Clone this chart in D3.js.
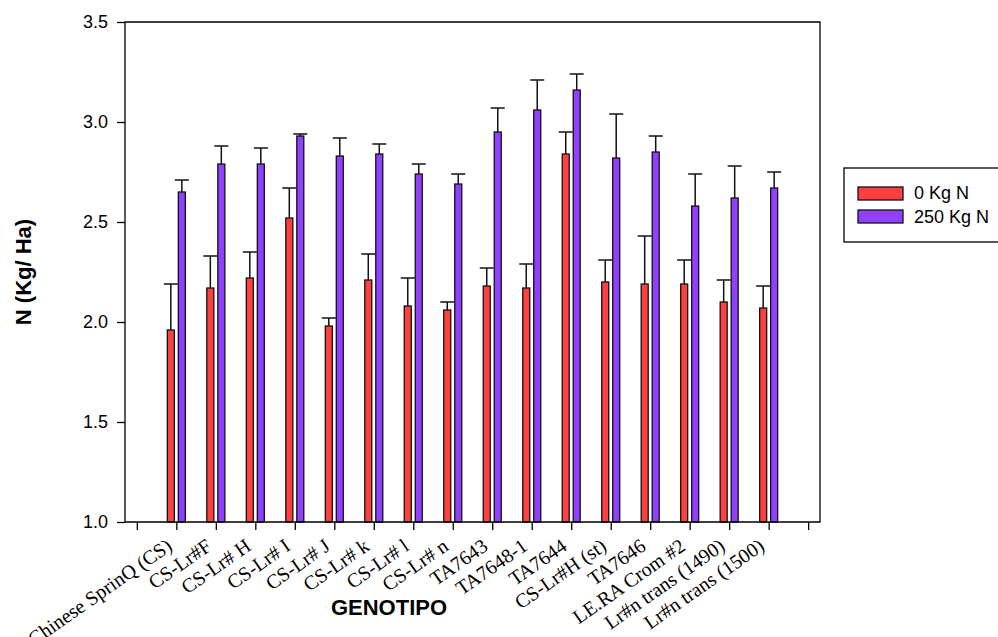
<!DOCTYPE html>
<html>
<head>
<meta charset="utf-8">
<script src="https://cdn.jsdelivr.net/npm/d3@7"></script>
<style>
  html, body { margin: 0; padding: 0; background: #fff; }
  svg { display: block; }
</style>
</head>
<body>
<svg id="chart" width="998" height="637"></svg>
<script>
// Genotypes along the x axis
const categories = [
  "Chinese SprinQ (CS)", "CS-Lr#F", "CS-Lr# H", "CS-Lr# I", "CS-Lr# J",
  "CS-Lr# k", "CS-Lr# l", "CS-Lr# n", "TA7643", "TA7648-1", "TA7644",
  "CS-Lr#H (st)", "TA7646", "LE.RA Crom #2", "Lr#n trans (1490)", "Lr#n trans (1500)"
];

// Mean N (Kg/Ha) and standard error, 0 Kg N treatment
const mean0 = [1.96, 2.17, 2.22, 2.52, 1.98, 2.21, 2.08, 2.06, 2.18, 2.17, 2.84, 2.20, 2.19, 2.19, 2.10, 2.07];
const err0  = [0.23, 0.16, 0.13, 0.15, 0.04, 0.13, 0.14, 0.04, 0.09, 0.12, 0.11, 0.11, 0.24, 0.12, 0.11, 0.11];

// Mean N (Kg/Ha) and standard error, 250 Kg N treatment
const mean250 = [2.65, 2.79, 2.79, 2.93, 2.83, 2.84, 2.74, 2.69, 2.95, 3.06, 3.16, 2.82, 2.85, 2.58, 2.62, 2.67];
const err250  = [0.06, 0.09, 0.08, 0.01, 0.09, 0.05, 0.05, 0.05, 0.12, 0.15, 0.08, 0.22, 0.08, 0.16, 0.16, 0.08];

const seriesNames = ["0 Kg N", "250 Kg N"];
const seriesColors = ["#ff4040", "#9040ff"];

const yTicks = [1.0, 1.5, 2.0, 2.5, 3.0, 3.5];

const svg = d3.select("#chart");

const plotLeft = 125, plotRight = 820, plotTop = 22, plotBottom = 522;

// Category positions sit on integer ticks 1..16; ticks also at 0 and 17
const x = d3.scaleLinear().domain([-0.3, 17.3]).range([plotLeft, plotRight]);
const y = d3.scaleLinear().domain([1.0, 3.5]).range([plotBottom, plotTop]);

const barW = 7, offset = 5.5, capW = 14;

const series = [
  { name: seriesNames[0], color: seriesColors[0], mean: mean0, err: err0, dx: -offset },
  { name: seriesNames[1], color: seriesColors[1], mean: mean250, err: err250, dx: offset }
];

const plot = svg.append("g");

series.forEach(s => {
  const g = plot.append("g");
  const rows = categories.map((c, i) => ({ i: i + 1, v: s.mean[i], e: s.err[i] }));
  // Error bars (upper half only)
  g.selectAll("line.err").data(rows).join("line").attr("class", "err")
    .attr("x1", d => x(d.i) + s.dx).attr("x2", d => x(d.i) + s.dx)
    .attr("y1", d => y(d.v)).attr("y2", d => y(d.v + d.e))
    .attr("stroke", "#111").attr("stroke-width", 1.5);
  g.selectAll("line.cap").data(rows).join("line").attr("class", "cap")
    .attr("x1", d => x(d.i) + s.dx - capW / 2).attr("x2", d => x(d.i) + s.dx + capW / 2)
    .attr("y1", d => y(d.v + d.e)).attr("y2", d => y(d.v + d.e))
    .attr("stroke", "#111").attr("stroke-width", 1.5);
  // Bars
  g.selectAll("rect").data(rows).join("rect")
    .attr("x", d => x(d.i) + s.dx - barW / 2)
    .attr("width", barW)
    .attr("y", d => y(d.v))
    .attr("height", d => y(1.0) - y(d.v))
    .attr("fill", s.color)
    .attr("stroke", "#111").attr("stroke-width", 1.3);
});

// Frame around the plot area
svg.append("path")
  .attr("d", `M${plotLeft},${plotBottom}V${plotTop}H${plotRight}V${plotBottom}H${plotLeft}`)
  .attr("fill", "none").attr("stroke", "#000").attr("stroke-width", 1.3);

// Y axis
const yAxis = d3.axisLeft(y).tickValues(yTicks).tickFormat(d3.format(".1f"))
  .tickSize(8).tickPadding(9);
const gy = svg.append("g").attr("transform", `translate(${plotLeft},0)`).call(yAxis);
gy.select(".domain").remove();
gy.selectAll("line").attr("stroke", "#000").attr("stroke-width", 1.3);
gy.selectAll("text").attr("font-family", "Arial, 'Liberation Sans', sans-serif")
  .attr("font-size", 18).attr("fill", "#000");

// X axis ticks
const xAxis = d3.axisBottom(x).tickValues(d3.range(0, 18)).tickFormat("").tickSize(8);
const gx = svg.append("g").attr("transform", `translate(0,${plotBottom})`).call(xAxis);
gx.select(".domain").remove();
gx.selectAll("line").attr("stroke", "#000").attr("stroke-width", 1.3);

// Rotated category labels
svg.append("g").selectAll("text").data(categories).join("text")
  .attr("transform", (d, i) => `translate(${x(i + 1) - 3},${plotBottom + 27}) rotate(-35)`)
  .attr("text-anchor", "end")
  .attr("font-family", "'Times New Roman', 'Liberation Serif', serif")
  .attr("font-size", 20)
  .attr("fill", "#000")
  .text(d => d);

// Axis titles
svg.append("text")
  .attr("x", 389).attr("y", 615)
  .attr("text-anchor", "middle")
  .attr("font-family", "Arial, 'Liberation Sans', sans-serif")
  .attr("font-weight", "bold").attr("font-size", 22)
  .text("GENOTIPO");

svg.append("text")
  .attr("transform", "translate(31,272) rotate(-90)")
  .attr("text-anchor", "middle")
  .attr("font-family", "Arial, 'Liberation Sans', sans-serif")
  .attr("font-weight", "bold").attr("font-size", 22)
  .text("N (Kg/ Ha)");

// Legend
const lg = svg.append("g");
lg.append("rect")
  .attr("x", 844).attr("y", 168).attr("width", 200).attr("height", 74)
  .attr("fill", "#fff").attr("stroke", "#000").attr("stroke-width", 1.3);
series.forEach((s, i) => {
  lg.append("rect")
    .attr("x", 858).attr("y", 187 + i * 23).attr("width", 45).attr("height", 13)
    .attr("fill", s.color).attr("stroke", "#111").attr("stroke-width", 1.3);
  lg.append("text")
    .attr("x", 914).attr("y", 199 + i * 24)
    .attr("font-family", "Arial, 'Liberation Sans', sans-serif")
    .attr("font-size", 18)
    .text(s.name);
});
</script>
</body>
</html>
